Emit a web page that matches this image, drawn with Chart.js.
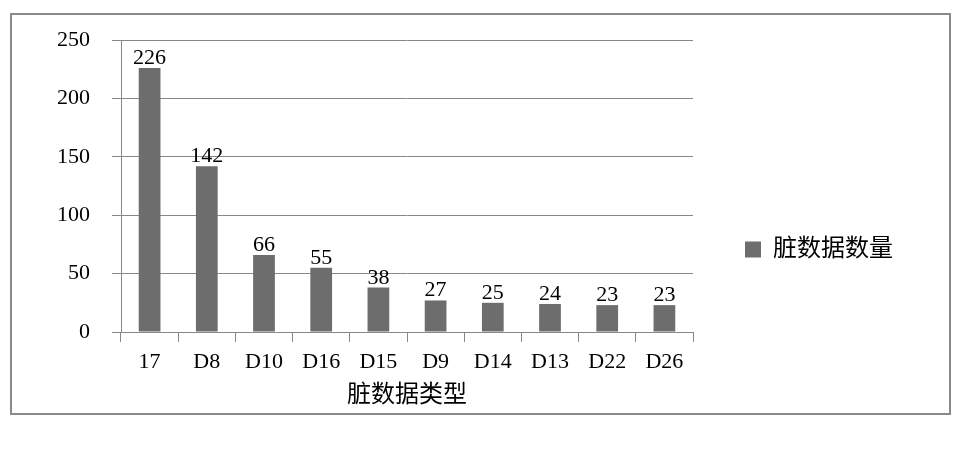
<!DOCTYPE html>
<html>
<head>
<meta charset="utf-8">
<script src="https://cdn.jsdelivr.net/npm/chart.js@4/dist/chart.umd.min.js"></script>
<style>
  html, body { margin: 0; padding: 0; background: #fff; }
  #wrap { position: relative; width: 956px; height: 459px; }
  #frame { position: absolute; left: 10px; top: 13px; width: 937px; height: 398px;
           border: 2px solid #8a8a8a; pointer-events: none; }
  canvas { position: absolute; left: 0; top: 0; }
</style>
</head>
<body>
<div id="wrap">
  <canvas id="c" width="956" height="459"></canvas>
  <div id="frame"></div>
</div>
<script>
const categories = ['17', 'D8', 'D10', 'D16', 'D15', 'D9', 'D14', 'D13', 'D22', 'D26'];
const counts = [226, 142, 66, 55, 38, 27, 25, 24, 23, 23];
const seriesName = '脏数据数量';
const axisTitle = '脏数据类型';
const yTicks = [0, 50, 100, 150, 200, 250];

const FONT = "'Liberation Serif', 'Noto Sans CJK SC', serif";
const BAR = '#6d6d6d';
const LINE = '#888888';

const valueLabels = {
  id: 'valueLabels',
  afterDatasetsDraw(chart) {
    const ctx = chart.ctx;
    const meta = chart.getDatasetMeta(0);
    ctx.save();
    ctx.font = '22px ' + FONT;
    ctx.fillStyle = '#000';
    ctx.textAlign = 'center';
    ctx.textBaseline = 'alphabetic';
    meta.data.forEach((bar, i) => {
      ctx.fillText(String(chart.data.datasets[0].data[i]), bar.x, bar.y - 4);
    });
    ctx.restore();
  }
};

new Chart(document.getElementById('c'), {
  type: 'bar',
  data: {
    labels: categories,
    datasets: [{
      label: seriesName,
      data: counts,
      backgroundColor: BAR,
      borderWidth: 0,
      categoryPercentage: 1.0,
      barPercentage: 0.38
    }]
  },
  options: {
    responsive: false,
    animation: false,
    layout: { padding: { left: 0, top: 40, right: 53, bottom: 0 } },
    plugins: {
      legend: {
        display: true,
        position: 'right',
        align: 'center',
        labels: {
          boxWidth: 16,
          boxHeight: 16,
          padding: 52,
          color: '#000',
          font: { family: FONT, size: 24 }
        }
      },
      tooltip: { enabled: false }
    },
    scales: {
      x: {
        grid: { offset: true, drawOnChartArea: false, tickLength: 10, color: LINE },
        border: { display: true, color: LINE, width: 1 },
        ticks: { color: '#000', padding: 7, maxRotation: 0, autoSkip: false, font: { family: FONT, size: 22 } },
        title: { display: true, text: axisTitle, color: '#000', font: { family: FONT, size: 24 }, padding: { top: 0, bottom: 49 } },
        afterFit(scale) { scale.height = 127; }
      },
      y: {
        min: 0,
        max: 250,
        afterBuildTicks(scale) { scale.ticks = yTicks.map(v => ({ value: v })); },
        grid: { color: LINE, tickLength: 9, drawTicks: true },
        border: { display: true, color: LINE, width: 1 },
        ticks: { color: '#000', padding: 22, font: { family: FONT, size: 22 } },
        afterFit(scale) { scale.width = 121; }
      }
    }
  },
  plugins: [valueLabels]
});
</script>
</body>
</html>
